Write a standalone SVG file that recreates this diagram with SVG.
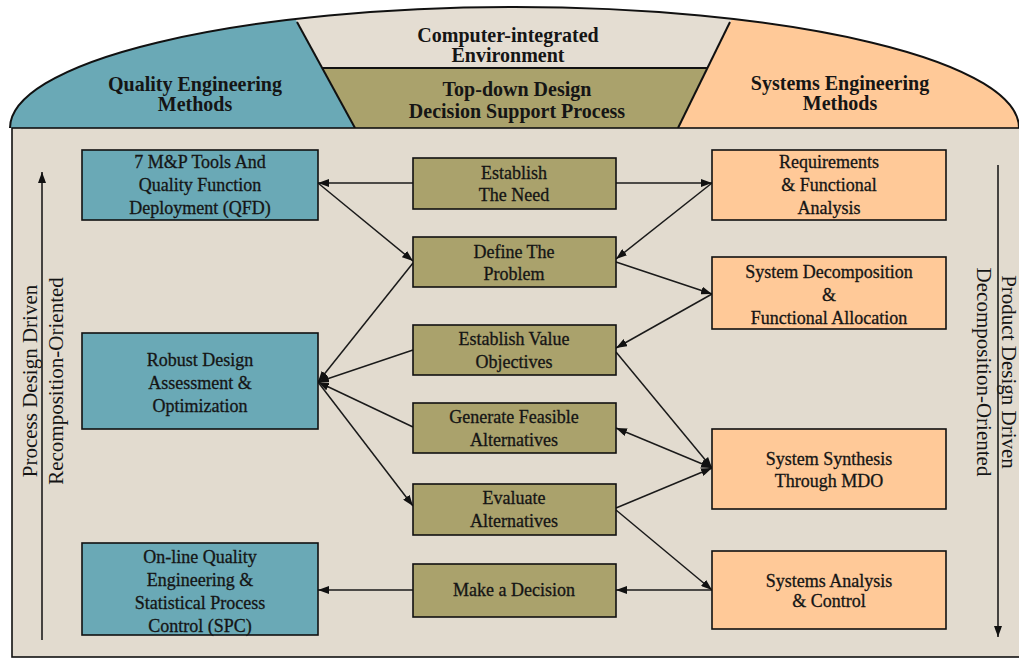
<svg xmlns="http://www.w3.org/2000/svg" width="1019" height="658" viewBox="0 0 1019 658">
  <defs>
    <style>
      .qe { fill: #6aa9b6; stroke: #111; stroke-width: 1.6; }
      .dp { fill: #aaa26c; stroke: #111; stroke-width: 1.6; }
      .se { fill: #ffc998; stroke: #111; stroke-width: 1.6; }
      .lbl { font-family: "Liberation Serif", "DejaVu Serif", serif; font-size: 18px; fill: #151515; stroke: #151515; stroke-width: 0.3; text-anchor: middle; }
      .ttl { font-family: "Liberation Serif", "DejaVu Serif", serif; font-size: 20px; font-weight: bold; fill: #151515; text-anchor: middle; }
      .side { font-family: "Liberation Serif", "DejaVu Serif", serif; font-size: 21px; fill: #151515; text-anchor: middle; }
      .edge { stroke: #1a1a1a; stroke-width: 1.5; fill: none; marker-end: url(#head); }
    </style>
    <marker id="head" markerUnits="userSpaceOnUse" markerWidth="11" markerHeight="8" refX="11" refY="4" orient="auto">
      <path d="M0,0 L11,4 L0,8 Z" fill="#111"/>
    </marker>
    <marker id="tail" markerUnits="userSpaceOnUse" markerWidth="11" markerHeight="8" refX="0" refY="4" orient="auto">
      <path d="M11,0 L0,4 L11,8 Z" fill="#111"/>
    </marker>
    <clipPath id="dome">
      <path d="M10,128 A504.5,121 0 0 1 1019,128 Z"/>
    </clipPath>
  </defs>

  <rect width="1019" height="658" fill="#ffffff"/>

  <!-- dome header -->
  <g id="header">
    <g clip-path="url(#dome)">
      <rect x="0" y="0" width="1019" height="128" fill="#e4ddd2"/>
      <polygon points="0,0 285,0 355,128 0,128" fill="#6aa9b6"/>
      <polygon points="741,0 1019,0 1019,128 678,128" fill="#ffc998"/>
      <polygon points="322,68 707,68 678,128 355,128" fill="#aaa26c"/>
    </g>
    <path d="M10,128 A504.5,121 0 0 1 1019,128" fill="none" stroke="#111" stroke-width="2"/>
    <line x1="297" y1="22" x2="355" y2="128" stroke="#111" stroke-width="2"/>
    <line x1="730" y1="22" x2="678" y2="128" stroke="#111" stroke-width="2"/>
    <line x1="322" y1="68" x2="707" y2="68" stroke="#111" stroke-width="2"/>
    <text class="ttl" x="195" y="91">Quality Engineering</text>
    <text class="ttl" x="195" y="111">Methods</text>
    <text class="ttl" x="508" y="42">Computer-integrated</text>
    <text class="ttl" x="508" y="62">Environment</text>
    <text class="ttl" x="517" y="96">Top-down Design</text>
    <text class="ttl" x="517" y="118">Decision Support Process</text>
    <text class="ttl" x="840" y="90">Systems Engineering</text>
    <text class="ttl" x="840" y="110">Methods</text>
  </g>

  <!-- main panel -->
  <rect x="12" y="128" width="1010" height="529" fill="#e2dbcf" stroke="#111" stroke-width="1.6"/>

  <!-- orientation axes -->
  <g id="axis-left">
    <line x1="42" y1="640" x2="42" y2="172" stroke="#111" stroke-width="1.5" marker-end="url(#head)"/>
    <text class="side" x="37" y="381" transform="rotate(-90 37 381)">Process Design Driven</text>
    <text class="side" x="63" y="381" transform="rotate(-90 63 381)">Recomposition-Oriented</text>
  </g>
  <g id="axis-right">
    <line x1="998" y1="165" x2="998" y2="637" stroke="#111" stroke-width="1.5" marker-end="url(#head)"/>
    <text class="side" x="1002" y="372" transform="rotate(90 1002 372)">Product Design Driven</text>
    <text class="side" x="977" y="372" transform="rotate(90 977 372)">Decomposition-Oriented</text>
  </g>

  <!-- connectors -->
  <g id="connectors">
    <line class="edge" x1="413" y1="183" x2="318" y2="183"/>
    <line class="edge" x1="318" y1="183" x2="413" y2="261"/>
    <line class="edge" x1="616" y1="183" x2="712" y2="183"/>
    <line class="edge" x1="712" y1="183" x2="616" y2="259"/>
    <line class="edge" x1="616" y1="262" x2="712" y2="294"/>
    <line class="edge" x1="712" y1="294" x2="616" y2="348"/>
    <line class="edge" x1="616" y1="352" x2="712" y2="468"/>
    <line class="edge" x1="712" y1="468" x2="616" y2="428" marker-start="url(#tail)"/>
    <line class="edge" x1="616" y1="508" x2="712" y2="468"/>
    <line class="edge" x1="616" y1="510" x2="712" y2="590"/>
    <line class="edge" x1="712" y1="590" x2="616" y2="590"/>
    <line class="edge" x1="413" y1="590" x2="318" y2="590"/>
    <line class="edge" x1="413" y1="263" x2="318" y2="382"/>
    <line class="edge" x1="413" y1="350" x2="318" y2="382"/>
    <line class="edge" x1="413" y1="427" x2="318" y2="382"/>
    <line class="edge" x1="318" y1="382" x2="413" y2="506"/>
  </g>

  <!-- quality engineering column -->
  <g id="qfd">
    <rect class="qe" x="82" y="150" width="236" height="70"/>
    <text class="lbl" x="200" y="168">7 M&amp;P Tools And</text>
    <text class="lbl" x="200" y="191">Quality Function</text>
    <text class="lbl" x="200" y="214">Deployment (QFD)</text>
  </g>
  <g id="robust">
    <rect class="qe" x="82" y="333" width="236" height="96"/>
    <text class="lbl" x="200" y="366">Robust Design</text>
    <text class="lbl" x="200" y="389">Assessment &amp;</text>
    <text class="lbl" x="200" y="412">Optimization</text>
  </g>
  <g id="spc">
    <rect class="qe" x="82" y="543" width="236" height="92"/>
    <text class="lbl" x="200" y="563">On-line Quality</text>
    <text class="lbl" x="200" y="586">Engineering &amp;</text>
    <text class="lbl" x="200" y="609">Statistical Process</text>
    <text class="lbl" x="200" y="632">Control (SPC)</text>
  </g>

  <!-- decision support column -->
  <g id="need">
    <rect class="dp" x="413" y="158" width="203" height="51"/>
    <text class="lbl" x="514" y="179">Establish</text>
    <text class="lbl" x="514" y="201">The Need</text>
  </g>
  <g id="problem">
    <rect class="dp" x="413" y="237" width="203" height="50"/>
    <text class="lbl" x="514" y="258">Define The</text>
    <text class="lbl" x="514" y="280">Problem</text>
  </g>
  <g id="value">
    <rect class="dp" x="413" y="325" width="203" height="50"/>
    <text class="lbl" x="514" y="345">Establish Value</text>
    <text class="lbl" x="514" y="368">Objectives</text>
  </g>
  <g id="generate">
    <rect class="dp" x="413" y="403" width="203" height="50"/>
    <text class="lbl" x="514" y="423">Generate Feasible</text>
    <text class="lbl" x="514" y="446">Alternatives</text>
  </g>
  <g id="evaluate">
    <rect class="dp" x="413" y="484" width="203" height="51"/>
    <text class="lbl" x="514" y="504">Evaluate</text>
    <text class="lbl" x="514" y="527">Alternatives</text>
  </g>
  <g id="decision">
    <rect class="dp" x="413" y="564" width="203" height="53"/>
    <text class="lbl" x="514" y="596">Make a Decision</text>
  </g>

  <!-- systems engineering column -->
  <g id="requirements">
    <rect class="se" x="712" y="150" width="234" height="70"/>
    <text class="lbl" x="829" y="168">Requirements</text>
    <text class="lbl" x="829" y="191">&amp; Functional</text>
    <text class="lbl" x="829" y="214">Analysis</text>
  </g>
  <g id="decomposition">
    <rect class="se" x="712" y="257" width="234" height="72"/>
    <text class="lbl" x="829" y="278">System Decomposition</text>
    <text class="lbl" x="829" y="301">&amp;</text>
    <text class="lbl" x="829" y="324">Functional Allocation</text>
  </g>
  <g id="synthesis">
    <rect class="se" x="712" y="429" width="234" height="80"/>
    <text class="lbl" x="829" y="465">System Synthesis</text>
    <text class="lbl" x="829" y="487">Through MDO</text>
  </g>
  <g id="analysis">
    <rect class="se" x="712" y="551" width="234" height="78"/>
    <text class="lbl" x="829" y="587">Systems Analysis</text>
    <text class="lbl" x="829" y="607">&amp; Control</text>
  </g>
</svg>
